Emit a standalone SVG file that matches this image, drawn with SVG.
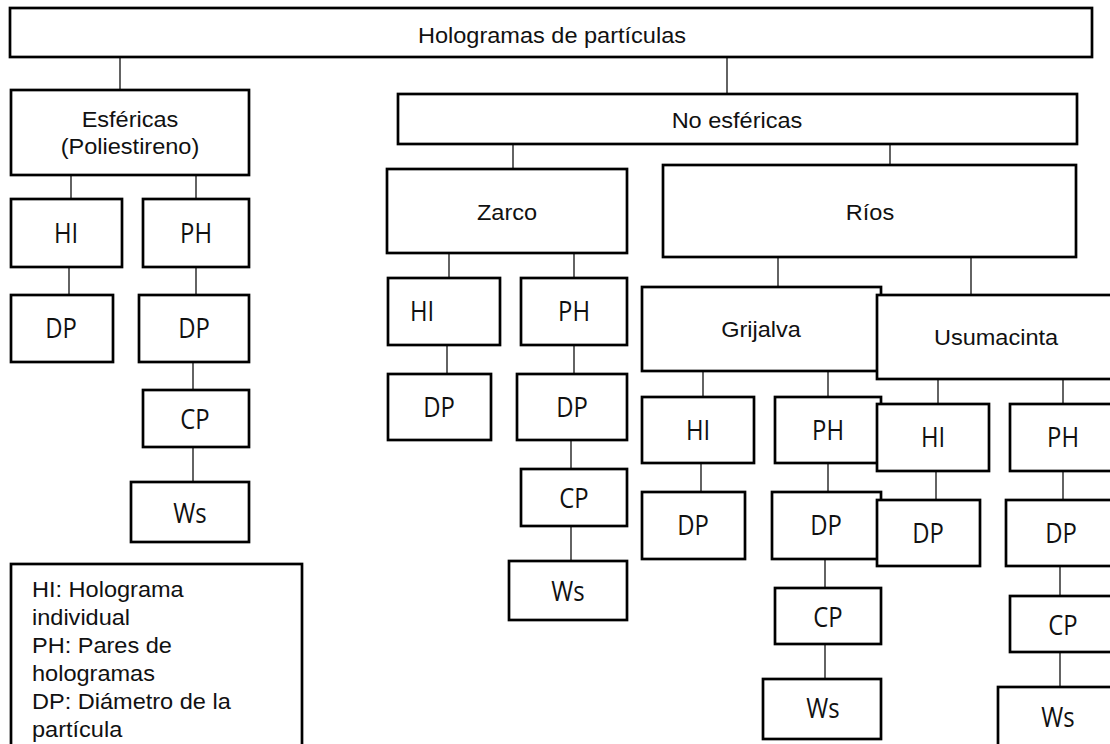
<svg xmlns="http://www.w3.org/2000/svg" width="1110" height="744" viewBox="0 0 1110 744">
<style>
.b{fill:#fff;stroke:#000;stroke-width:2.7}
.k line{stroke:#222;stroke-width:1.4}
.a{font-family:"Liberation Sans",Arial,sans-serif;font-size:22px;fill:#111;text-anchor:middle}
.l{font-family:"Liberation Sans",Arial,sans-serif;font-size:22px;fill:#111}
.c{font-family:"Open Sans","Noto Sans",sans-serif;font-size:26.5px;fill:#111;text-anchor:middle}
.s{font-family:"Open Sans","Noto Sans",sans-serif;font-size:26.5px;fill:#111}
</style>
<rect width="1110" height="744" fill="#fff"/>
<g id="connectors" class="k">
<line x1="120" y1="57" x2="120" y2="90"/>
<line x1="727" y1="57" x2="727" y2="94"/>
<line x1="71" y1="175" x2="71" y2="199"/>
<line x1="196" y1="175" x2="196" y2="199"/>
<line x1="69" y1="267" x2="69" y2="295"/>
<line x1="196" y1="267" x2="196" y2="295"/>
<line x1="193" y1="362" x2="193" y2="390"/>
<line x1="193" y1="447" x2="193" y2="482"/>
<line x1="513" y1="141" x2="513" y2="169"/>
<line x1="890" y1="141" x2="890" y2="165"/>
<line x1="449" y1="253" x2="449" y2="278"/>
<line x1="574" y1="253" x2="574" y2="278"/>
<line x1="447" y1="345" x2="447" y2="374"/>
<line x1="574" y1="345" x2="574" y2="374"/>
<line x1="571" y1="440" x2="571" y2="469"/>
<line x1="571" y1="526" x2="571" y2="561"/>
<line x1="778" y1="257" x2="778" y2="287"/>
<line x1="971" y1="257" x2="971" y2="295"/>
<line x1="703" y1="371" x2="703" y2="397"/>
<line x1="828" y1="371" x2="828" y2="397"/>
<line x1="701" y1="463" x2="701" y2="492"/>
<line x1="828" y1="463" x2="828" y2="492"/>
<line x1="825" y1="559" x2="825" y2="588"/>
<line x1="825" y1="644" x2="825" y2="679"/>
<line x1="938" y1="379" x2="938" y2="404"/>
<line x1="1063" y1="379" x2="1063" y2="404"/>
<line x1="936" y1="471" x2="936" y2="500"/>
<line x1="1063" y1="471" x2="1063" y2="500"/>
<line x1="1060" y1="566" x2="1060" y2="596"/>
<line x1="1060" y1="652" x2="1060" y2="687"/>
</g>
<g id="root"><rect class="b" x="10" y="8" width="1082" height="49"/><text class="a" transform="translate(552 43) scale(1.07 1)">Hologramas de partículas</text></g>
<g id="esfericas"><rect class="b" x="11" y="90" width="238" height="85"/><text class="a" transform="translate(130 127) scale(1.07 1)">Esféricas</text><text class="a" transform="translate(130 154) scale(1.07 1)">(Poliestireno)</text></g>
<g id="e-hi"><rect class="b" x="11" y="199" width="111" height="68"/><text class="c" transform="translate(66 243) scale(0.9 1)">HI</text></g>
<g id="e-ph"><rect class="b" x="143" y="199" width="106" height="68"/><text class="c" transform="translate(196 243) scale(0.9 1)">PH</text></g>
<g id="e-dp1"><rect class="b" x="11" y="295" width="102" height="67"/><text class="c" transform="translate(61 338) scale(0.9 1)">DP</text></g>
<g id="e-dp2"><rect class="b" x="139" y="295" width="110" height="67"/><text class="c" transform="translate(194 338) scale(0.9 1)">DP</text></g>
<g id="e-cp"><rect class="b" x="143" y="390" width="106" height="57"/><text class="c" transform="translate(195 429) scale(0.9 1)">CP</text></g>
<g id="e-ws"><rect class="b" x="131" y="482" width="118" height="60"/><text class="c" transform="translate(190 523) scale(0.9 1)">Ws</text></g>
<g id="no-esfericas"><rect class="b" x="398" y="94" width="679" height="50"/><text class="a" transform="translate(737 128) scale(1.07 1)">No esféricas</text></g>
<g id="zarco"><rect class="b" x="387" y="169" width="240" height="84"/><text class="a" transform="translate(507 220) scale(1.07 1)">Zarco</text></g>
<g id="z-hi"><rect class="b" x="388" y="278" width="112" height="67"/><text class="s" transform="translate(410 321) scale(0.9 1)">HI</text></g>
<g id="z-ph"><rect class="b" x="521" y="278" width="106" height="67"/><text class="c" transform="translate(574 321) scale(0.9 1)">PH</text></g>
<g id="z-dp1"><rect class="b" x="388" y="374" width="103" height="66"/><text class="c" transform="translate(439 417) scale(0.9 1)">DP</text></g>
<g id="z-dp2"><rect class="b" x="517" y="374" width="110" height="66"/><text class="c" transform="translate(572 417) scale(0.9 1)">DP</text></g>
<g id="z-cp"><rect class="b" x="521" y="469" width="106" height="57"/><text class="c" transform="translate(574 508) scale(0.9 1)">CP</text></g>
<g id="z-ws"><rect class="b" x="509" y="561" width="118" height="59"/><text class="c" transform="translate(568 601) scale(0.9 1)">Ws</text></g>
<g id="rios"><rect class="b" x="663" y="165" width="413" height="92"/><text class="a" transform="translate(870 220) scale(1.07 1)">Ríos</text></g>
<g id="grijalva"><rect class="b" x="642" y="287" width="239" height="84"/><text class="a" transform="translate(761 337) scale(1.07 1)">Grijalva</text></g>
<g id="g-hi"><rect class="b" x="642" y="397" width="112" height="66"/><text class="c" transform="translate(698 440) scale(0.9 1)">HI</text></g>
<g id="g-ph"><rect class="b" x="775" y="397" width="106" height="66"/><text class="c" transform="translate(828 440) scale(0.9 1)">PH</text></g>
<g id="g-dp1"><rect class="b" x="642" y="492" width="103" height="67"/><text class="c" transform="translate(693 535) scale(0.9 1)">DP</text></g>
<g id="g-dp2"><rect class="b" x="772" y="492" width="109" height="67"/><text class="c" transform="translate(826 535) scale(0.9 1)">DP</text></g>
<g id="g-cp"><rect class="b" x="775" y="588" width="106" height="56"/><text class="c" transform="translate(828 627) scale(0.9 1)">CP</text></g>
<g id="g-ws"><rect class="b" x="763" y="679" width="118" height="60"/><text class="c" transform="translate(823 718) scale(0.9 1)">Ws</text></g>
<g id="usumacinta"><rect class="b" x="877" y="295" width="245" height="84"/><text class="a" transform="translate(996 345) scale(1.07 1)">Usumacinta</text></g>
<g id="u-hi"><rect class="b" x="877" y="404" width="112" height="67"/><text class="c" transform="translate(933 447) scale(0.9 1)">HI</text></g>
<g id="u-ph"><rect class="b" x="1010" y="404" width="110" height="67"/><text class="c" transform="translate(1063 447) scale(0.9 1)">PH</text></g>
<g id="u-dp1"><rect class="b" x="877" y="500" width="103" height="66"/><text class="c" transform="translate(928 543) scale(0.9 1)">DP</text></g>
<g id="u-dp2"><rect class="b" x="1006" y="500" width="114" height="66"/><text class="c" transform="translate(1061 543) scale(0.9 1)">DP</text></g>
<g id="u-cp"><rect class="b" x="1010" y="596" width="110" height="56"/><text class="c" transform="translate(1063 635) scale(0.9 1)">CP</text></g>
<g id="u-ws"><rect class="b" x="998" y="687" width="122" height="70"/><text class="c" transform="translate(1058 727) scale(0.9 1)">Ws</text></g>
<g id="legend"><rect class="b" x="11" y="564" width="291" height="195"/>
<text class="l" transform="translate(32 597) scale(1.07 1)">HI: Holograma</text>
<text class="l" transform="translate(32 625) scale(1.07 1)">individual</text>
<text class="l" transform="translate(32 653) scale(1.07 1)">PH: Pares de</text>
<text class="l" transform="translate(32 681) scale(1.07 1)">hologramas</text>
<text class="l" transform="translate(32 709) scale(1.07 1)">DP: Diámetro de la</text>
<text class="l" transform="translate(32 737) scale(1.07 1)">partícula</text>
</g>
</svg>
